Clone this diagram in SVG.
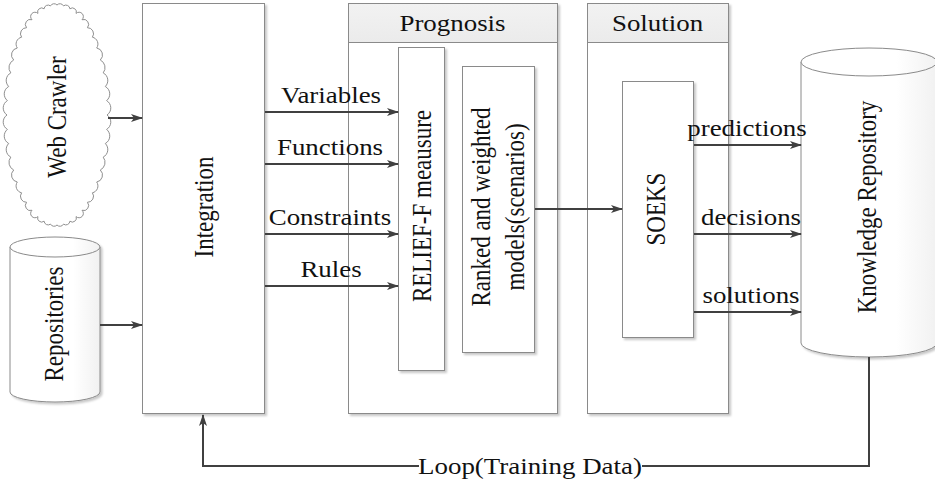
<svg xmlns="http://www.w3.org/2000/svg" width="935" height="481" viewBox="0 0 935 481">
  <defs>
    <style>
      .box { fill: #ffffff; stroke: #8a8a8a; stroke-width: 1; }
      .hdr { fill: url(#hdrFill); stroke: #8a8a8a; stroke-width: 1; }
      .shape { fill: url(#cylFill); stroke: #8a8a8a; stroke-width: 1; }
      .cloud { fill: #ffffff; stroke: #8f8f8f; stroke-width: 1; }
      .edge { fill: none; stroke: #404040; stroke-width: 2; }
      .lbl { font-family: "Liberation Serif", "Times New Roman", serif; font-size: 23px; fill: #111111; text-anchor: middle; }
    </style>
    <linearGradient id="hdrFill" x1="0" y1="0" x2="0" y2="1">
      <stop offset="0" stop-color="#f2f2f2"/>
      <stop offset="1" stop-color="#ebebeb"/>
    </linearGradient>
    <linearGradient id="cylFill" x1="0" y1="0" x2="1" y2="0">
      <stop offset="0" stop-color="#ffffff"/>
      <stop offset="0.7" stop-color="#ffffff"/>
      <stop offset="1" stop-color="#f1f1f1"/>
    </linearGradient>
    <filter id="shadow" x="-10%" y="-10%" width="130%" height="130%">
      <feDropShadow dx="2" dy="2" stdDeviation="0.8" flood-color="#000000" flood-opacity="0.22"/>
    </filter>
    <marker id="arrow" viewBox="0 0 12 8" refX="11" refY="4" markerWidth="12" markerHeight="8" markerUnits="userSpaceOnUse" orient="auto">
      <path d="M0,0 L12,4 L0,8 L3,4 Z" fill="#404040"/>
    </marker>
  </defs>

  <!-- Web Crawler (cloud): scalloped outline around an ellipse -->
  <g id="web-crawler">
    <path class="cloud" d="M107,115
      A8.5,8.5 0 0,1 106.6,129.4 A8.5,8.5 0 0,1 105.3,143.5 A8.5,8.5 0 0,1 103.2,157.1 A8.5,8.5 0 0,1 100.3,170
      A7,7 0 0,1 96.7,182 A7,7 0 0,1 92.4,192.8 A6,6 0 0,1 87.4,202.3 A5,5 0 0,1 82,210.3
      A4,4 0 0,1 76.1,216.6 A4,4 0 0,1 69.9,221.2 A4,4 0 0,1 63.5,224.1 A4,4 0 0,1 57,225
      A4,4 0 0,1 50.5,224.1 A4,4 0 0,1 44.1,221.2 A4,4 0 0,1 37.9,216.6 A4,4 0 0,1 32,210.3
      A5,5 0 0,1 26.6,202.3 A6,6 0 0,1 21.6,192.8 A7,7 0 0,1 17.3,182 A7,7 0 0,1 13.7,170
      A8.5,8.5 0 0,1 10.8,157.1 A8.5,8.5 0 0,1 8.7,143.5 A8.5,8.5 0 0,1 7.4,129.4 A8.5,8.5 0 0,1 7,115
      A8.5,8.5 0 0,1 7.4,100.6 A8.5,8.5 0 0,1 8.7,86.5 A8.5,8.5 0 0,1 10.8,72.9 A8.5,8.5 0 0,1 13.7,60
      A7,7 0 0,1 17.3,48 A7,7 0 0,1 21.6,37.2 A6,6 0 0,1 26.6,27.7 A5,5 0 0,1 32,19.7
      A4,4 0 0,1 37.9,13.4 A4,4 0 0,1 44.1,8.8 A4,4 0 0,1 50.5,5.9 A4,4 0 0,1 57,5
      A4,4 0 0,1 63.5,5.9 A4,4 0 0,1 69.9,8.8 A4,4 0 0,1 76.1,13.4 A4,4 0 0,1 82,19.7
      A5,5 0 0,1 87.4,27.7 A6,6 0 0,1 92.4,37.2 A7,7 0 0,1 96.7,48 A7,7 0 0,1 100.3,60
      A8.5,8.5 0 0,1 103.2,72.9 A8.5,8.5 0 0,1 105.3,86.5 A8.5,8.5 0 0,1 106.6,100.6 A8.5,8.5 0 0,1 107,115 Z"/>
    <text class="lbl" transform="translate(66,117) scale(1.17,1) rotate(-90)">Web Crawler</text>
  </g>

  <!-- Repositories (cylinder) -->
  <g id="repositories">
    <path class="shape" d="M10,247 A45,10 0 0,1 100,247 L100,392 A45,10 0 0,1 10,392 Z" filter="url(#shadow)"/>
    <path class="shape" d="M10,247 A45,10 0 0,0 100,247" fill="none"/>
    <text class="lbl" transform="translate(63,324) scale(1.17,1) rotate(-90)">Repositories</text>
  </g>

  <!-- Integration -->
  <g id="integration">
    <rect class="box" x="142.5" y="3.5" width="122" height="410" filter="url(#shadow)"/>
    <text class="lbl" transform="translate(213,207) scale(1.17,1) rotate(-90)">Integration</text>
  </g>

  <!-- Prognosis container -->
  <g id="prognosis">
    <rect class="box" x="348.5" y="3.5" width="209" height="410" filter="url(#shadow)"/>
    <rect class="hdr" x="348.5" y="3.5" width="209" height="39"/>
    <text class="lbl" transform="translate(452.5,31) scale(1.17,1)">Prognosis</text>
  </g>

  <!-- RELIEF-F measure -->
  <g id="relief-f">
    <rect class="box" x="398.5" y="47.5" width="46" height="323" filter="url(#shadow)"/>
    <text class="lbl" transform="translate(431,206) scale(1.17,1) rotate(-90)">RELIEF-F meausure</text>
  </g>

  <!-- Ranked and weighted models -->
  <g id="ranked-models">
    <rect class="box" x="462.5" y="66.5" width="72" height="286" filter="url(#shadow)"/>
    <text class="lbl" transform="translate(490,207) scale(1.17,1) rotate(-90)">Ranked and weighted</text>
    <text class="lbl" transform="translate(524,207) scale(1.17,1) rotate(-90)">models(scenarios)</text>
  </g>

  <!-- Solution container -->
  <g id="solution">
    <rect class="box" x="587.5" y="3.5" width="141" height="410" filter="url(#shadow)"/>
    <rect class="hdr" x="587.5" y="3.5" width="141" height="39"/>
    <text class="lbl" transform="translate(657.5,31) scale(1.17,1)">Solution</text>
  </g>

  <!-- SOEKS -->
  <g id="soeks">
    <rect class="box" x="622.5" y="81.5" width="71" height="256" filter="url(#shadow)"/>
    <text class="lbl" transform="translate(665,209) scale(1.17,1) rotate(-90)">SOEKS</text>
  </g>

  <!-- Knowledge Repository (cylinder) -->
  <g id="knowledge-repository">
    <path class="shape" d="M801,62 A68,14 0 0,1 937,62 L937,343 A68,14 0 0,1 801,343 Z" filter="url(#shadow)"/>
    <path class="shape" d="M801,62 A68,14 0 0,0 937,62" fill="none"/>
    <text class="lbl" transform="translate(876,207) scale(1.17,1) rotate(-90)">Knowledge Repository</text>
  </g>

  <!-- Connectors -->
  <g id="connectors">
    <line class="edge" x1="108" y1="118" x2="142" y2="118" marker-end="url(#arrow)"/>
    <line class="edge" x1="100" y1="325" x2="142" y2="325" marker-end="url(#arrow)"/>

    <line class="edge" x1="265" y1="112" x2="398" y2="112" marker-end="url(#arrow)"/>
    <line class="edge" x1="265" y1="164" x2="398" y2="164" marker-end="url(#arrow)"/>
    <line class="edge" x1="265" y1="234" x2="398" y2="234" marker-end="url(#arrow)"/>
    <line class="edge" x1="265" y1="286" x2="398" y2="286" marker-end="url(#arrow)"/>
    <text class="lbl" transform="translate(331,103) scale(1.17,1)">Variables</text>
    <text class="lbl" transform="translate(330,155) scale(1.17,1)">Functions</text>
    <text class="lbl" transform="translate(330,225) scale(1.17,1)">Constraints</text>
    <text class="lbl" transform="translate(331,277) scale(1.17,1)">Rules</text>

    <line class="edge" x1="535" y1="209" x2="622" y2="209" marker-end="url(#arrow)"/>

    <line class="edge" x1="694" y1="145" x2="801" y2="145" marker-end="url(#arrow)"/>
    <line class="edge" x1="694" y1="234" x2="801" y2="234" marker-end="url(#arrow)"/>
    <line class="edge" x1="694" y1="312" x2="801" y2="312" marker-end="url(#arrow)"/>
    <text class="lbl" transform="translate(747,136) scale(1.17,1)">predictions</text>
    <text class="lbl" transform="translate(751,225) scale(1.17,1)">decisions</text>
    <text class="lbl" transform="translate(751,303) scale(1.17,1)">solutions</text>

    <!-- feedback loop back into Integration -->
    <polyline class="edge" points="642,466 869,466 869,357"/>
    <polyline class="edge" points="419,466 203,466 203,415" marker-end="url(#arrow)"/>
    <text class="lbl" transform="translate(530,474) scale(1.17,1)">Loop(Training Data)</text>
  </g>
</svg>
